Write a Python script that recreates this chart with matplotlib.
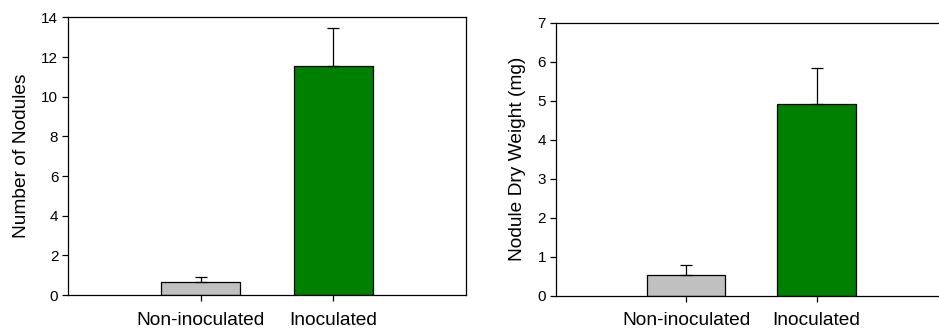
import numpy as np
import matplotlib.pyplot as plt

plt.rcParams['font.family'] = ['Liberation Sans', 'DejaVu Sans']

categories = ["Non-inoculated", "Inoculated"]
bar_colors = ["#c0c0c0", "#008000"]

nodule_count = [0.65, 11.55]
nodule_count_err = [0.28, 1.9]

dry_weight = [0.54, 4.91]
dry_weight_err = [0.25, 0.94]

fig = plt.figure(figsize=(9.39, 3.29), dpi=100)
ax1 = fig.add_axes([0.0724, 0.1033, 0.4239, 0.844])
ax2 = fig.add_axes([0.5918, 0.1012, 0.4167, 0.8298])


def draw_panel(ax, values, errs, ylim, yticks, ylabel, show_right=True):
    x = np.arange(1, len(values) + 1)
    ax.bar(x, values, width=0.6, color=bar_colors, edgecolor="black", linewidth=0.9, zorder=2)
    ax.errorbar(x, values, yerr=[np.zeros(len(errs)), errs], fmt="none",
                ecolor="black", elinewidth=0.9, capsize=4, capthick=0.9, zorder=3)
    ax.set_xlim(0, 3)
    ax.set_ylim(*ylim)
    ax.set_yticks(yticks)
    ax.set_xticks(x)
    ax.set_xticklabels(categories, fontsize=13.8)
    ax.tick_params(axis="y", direction="out", length=4, width=0.9, labelsize=11, pad=3)
    ax.tick_params(axis="x", direction="out", length=4, width=0.9, pad=8)
    ax.tick_params(top=False, right=False)
    ax.set_ylabel(ylabel, fontsize=13.8, labelpad=8)
    for s in ax.spines.values():
        s.set_linewidth(0.9)
    ax.spines["right"].set_visible(show_right)


draw_panel(ax1, nodule_count, nodule_count_err, (0, 14), range(0, 15, 2), "Number of Nodules")
draw_panel(ax2, dry_weight, dry_weight_err, (0, 7), range(0, 8), "Nodule Dry Weight (mg)")

fig.savefig("out.png", dpi=100)
